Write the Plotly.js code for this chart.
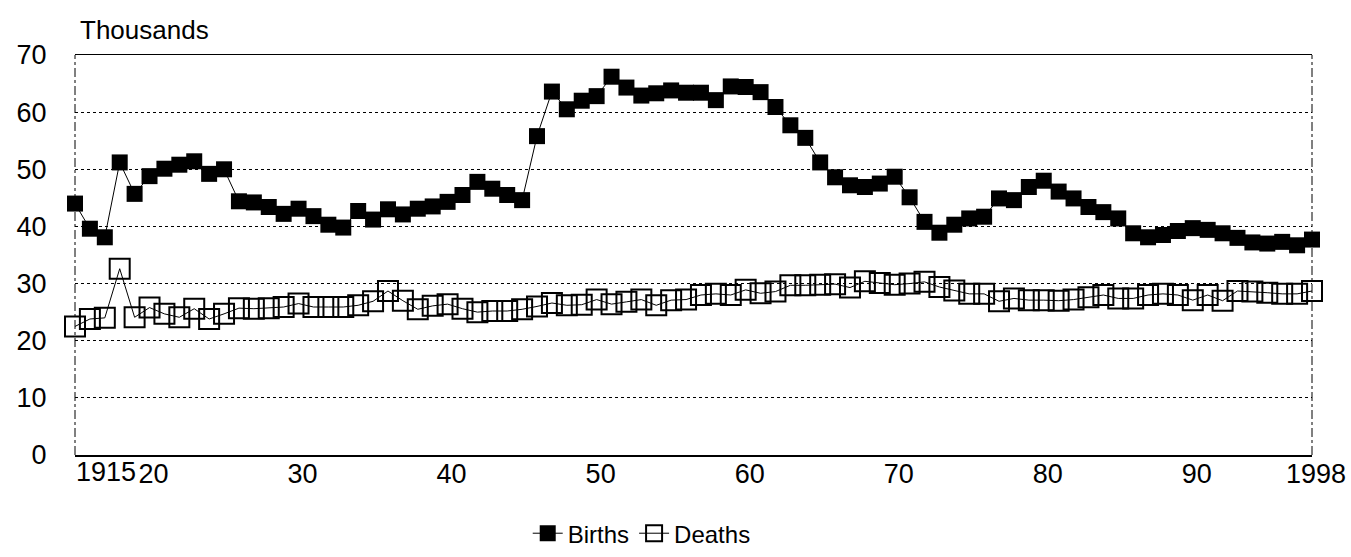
<!DOCTYPE html>
<html>
<head>
<meta charset="utf-8">
<script src="https://cdn.plot.ly/plotly-3.0.1.min.js"></script>
<style>html,body{margin:0;padding:0;background:#fff;}#chart{width:1351px;height:557px;}</style>
</head>
<body>
<div id="chart"></div>
<script>
const years = [];
for (let y = 1915; y <= 1998; y++) years.push(y);

const births = [
  44.0, 39.6, 38.1, 51.2, 45.7, 48.8, 50.1, 50.8, 51.4, 49.2,
  50.0, 44.4, 44.2, 43.4, 42.2, 43.1, 41.8, 40.3, 39.8, 42.7,
  41.2, 43.0, 42.1, 43.1, 43.5, 44.3, 45.5, 47.8, 46.6, 45.5,
  44.6, 55.8, 63.6, 60.5, 62.0, 62.8, 66.2, 64.3, 62.9, 63.3,
  63.8, 63.4, 63.4, 62.1, 64.5, 64.4, 63.5, 60.9, 57.7, 55.5,
  51.2, 48.6, 47.2, 46.9, 47.5, 48.7, 45.1, 40.8, 38.9, 40.3,
  41.4, 41.7, 44.9, 44.6, 46.9, 48.0, 46.1, 44.9, 43.4, 42.5,
  41.4, 38.8, 38.1, 38.5, 39.2, 39.7, 39.4, 38.8, 38.0, 37.2,
  37.0, 37.3, 36.7, 37.7
];

const deaths = [
  22.5, 23.8, 24.0, 32.6, 24.1, 25.8, 24.7, 24.1, 25.6, 23.8,
  24.7, 25.7, 25.6, 25.7, 25.9, 26.5, 25.9, 25.9, 25.9, 26.2,
  26.9, 28.7, 27.0, 25.5, 26.1, 26.4, 25.6, 25.0, 25.2, 25.2,
  25.5, 26.0, 26.6, 26.2, 26.3, 27.2, 26.4, 26.8, 27.2, 26.2,
  27.1, 27.2, 28.0, 28.2, 28.0, 28.9, 28.3, 28.6, 29.7, 29.7,
  29.8, 29.9, 29.3, 30.4, 30.1, 29.8, 30.0, 30.3, 29.4, 28.8,
  28.2, 28.2, 26.9, 27.4, 27.1, 27.1, 27.0, 27.2, 27.6, 28.0,
  27.4, 27.4, 28.0, 28.2, 28.0, 27.1, 28.0, 27.0, 28.7, 28.6,
  28.4, 28.2, 28.2, 28.7
];

const xTickVals = [1915, 1920, 1930, 1940, 1950, 1960, 1970, 1980, 1990, 1998];
const xTickText = ['', '20', '30', '40', '50', '60', '70', '80', '90', '1998'];
const firstYearLabel = '1915';
const yTickVals = [0, 10, 20, 30, 40, 50, 60, 70];
const seriesNames = ['Births', 'Deaths'];
const unitLabel = 'Thousands';

const FONT = '"Liberation Sans", Arial, sans-serif';

const traces = [
  {
    x: years, y: births, name: seriesNames[0], type: 'scatter', mode: 'lines+markers',
    line: {color: '#000', width: 1},
    marker: {symbol: 'square', size: 16, color: '#000'},
    cliponaxis: false
  },
  {
    x: years, y: deaths, name: seriesNames[1], type: 'scatter', mode: 'lines+markers',
    line: {color: '#000', width: 1},
    marker: {symbol: 'square-open', size: 20, color: '#000', line: {color: '#000', width: 2}},
    cliponaxis: false
  }
];

const layout = {
  width: 1351, height: 557,
  margin: {l: 75, r: 39, t: 55, b: 102, autoexpand: false},
  paper_bgcolor: '#fff', plot_bgcolor: '#fff',
  font: {family: FONT, color: '#000', size: 27},
  showlegend: true,
  legend: {
    orientation: 'h', xref: 'container', yref: 'container',
    x: 0.475, xanchor: 'center', y: 0.042, yanchor: 'middle',
    font: {family: FONT, size: 24, color: '#000'}, bgcolor: 'rgba(0,0,0,0)',
    itemwidth: 30, tracegroupgap: 0
  },
  xaxis: {
    range: [1915, 1998], tickmode: 'array', tickvals: xTickVals, ticktext: xTickText,
    showgrid: false, zeroline: false, showline: true, mirror: true,
    linecolor: '#000', linewidth: 1.5, automargin: false,
    ticks: '', ticklabelstandoff: -6,
    ticklabelshift: 4,
    tickfont: {family: FONT, size: 27, color: '#000'}
  },
  yaxis: {
    range: [0, 70], tickmode: 'array', tickvals: yTickVals,
    showgrid: true, gridcolor: '#000', gridwidth: 1, griddash: 'dot',
    zeroline: false, showline: false, automargin: false,
    ticks: 'outside', ticklen: 22, tickcolor: 'rgba(0,0,0,0)',
    tickfont: {family: FONT, size: 27, color: '#000'}
  },
  shapes: [
    {type: 'line', xref: 'paper', yref: 'paper', x0: 0, x1: 0, y0: 0, y1: 1,
     line: {color: '#000', width: 1, dash: 'dashdot'}},
    {type: 'line', xref: 'paper', yref: 'paper', x0: 1, x1: 1, y0: 0, y1: 1,
     line: {color: '#000', width: 1, dash: 'dashdot'}}
  ],
  annotations: [
    {text: unitLabel, xref: 'paper', yref: 'paper', x: 0, y: 1, xanchor: 'left', yanchor: 'bottom',
     xshift: 3, yshift: 8, showarrow: false, font: {family: FONT, size: 26, color: '#000'}},
    {text: firstYearLabel, xref: 'x', yref: 'paper', x: xTickVals[0], y: 0, xanchor: 'left', yanchor: 'top',
     xshift: -1, yshift: 0, showarrow: false, font: {family: FONT, size: 27, color: '#000'}}
  ]
};

Plotly.newPlot('chart', traces, layout, {displayModeBar: false, staticPlot: true});
</script>
</body>
</html>
